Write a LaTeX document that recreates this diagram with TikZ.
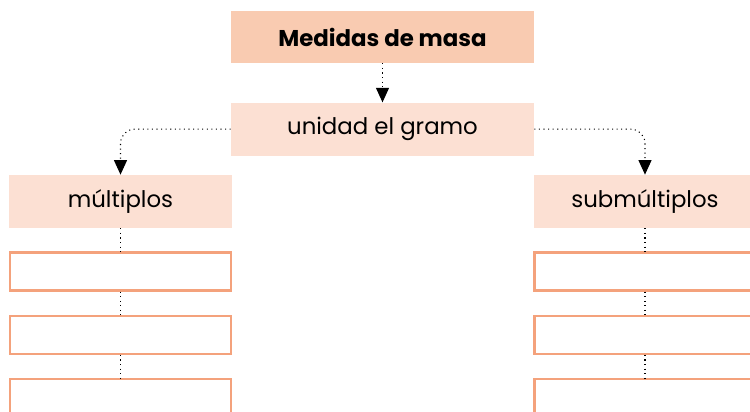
\documentclass[tikz,border=0pt]{standalone}
\usepackage{fontspec}
\setmainfont{Poppins}
\usetikzlibrary{arrows.meta,positioning}
\definecolor{headfill}{HTML}{F9CBB1}
\definecolor{lblfill}{HTML}{FCE0D3}
\definecolor{blankline}{HTML}{F4A27C}

\begin{document}
\begin{tikzpicture}[>={Triangle[length=2.9mm,width=2.6mm]}, node distance=0.46cm]
  \tikzset{head/.style={fill=headfill,minimum width=6.06cm,minimum height=1.04cm,inner sep=0pt,font=\fontsize{13}{15}\selectfont\bfseries},
           lbl/.style={fill=lblfill,minimum width=4.46cm,minimum height=1.06cm,inner sep=0pt,font=\fontsize{13}{15}\selectfont},
           blank/.style={draw=blankline,line width=1.3pt,minimum width=4.42cm,minimum height=0.76cm,inner sep=0pt},
           link/.style={dotted,line width=0.6pt}}
  \useasboundingbox (0,0) rectangle (15,8.24);
  \node[head] (title) at (7.65,7.5) {Medidas de masa};
  \node[lbl, minimum width=6.06cm, below=0.78cm of title] (unit) {unidad el gramo};
  \node[lbl] (mult) at (2.41,4.21) {múltiplos};
  \node[lbl] (sub) at (12.9,4.21) {submúltiplos};
  \node[blank, below=of mult] (m1) {};
  \node[blank, below=of m1] (m2) {};
  \node[blank, below=of m2] (m3) {};
  \node[blank, below=of sub] (s1) {};
  \node[blank, below=of s1] (s2) {};
  \node[blank, below=of s2] (s3) {};

  \draw[link,->] (title) -- (unit);
  \draw[link,->,rounded corners=8pt] (unit.west) -| (mult.north);
  \draw[link,->,rounded corners=8pt] (unit.east) -| (sub.north);
  \draw[link] (mult) -- (m1);
  \draw[link] (m1) -- (m2);
  \draw[link] (m2) -- (m3);
  \draw[link] (sub) -- (s1);
  \draw[link] (s1) -- (s2);
  \draw[link] (s2) -- (s3);
\end{tikzpicture}
\end{document}
